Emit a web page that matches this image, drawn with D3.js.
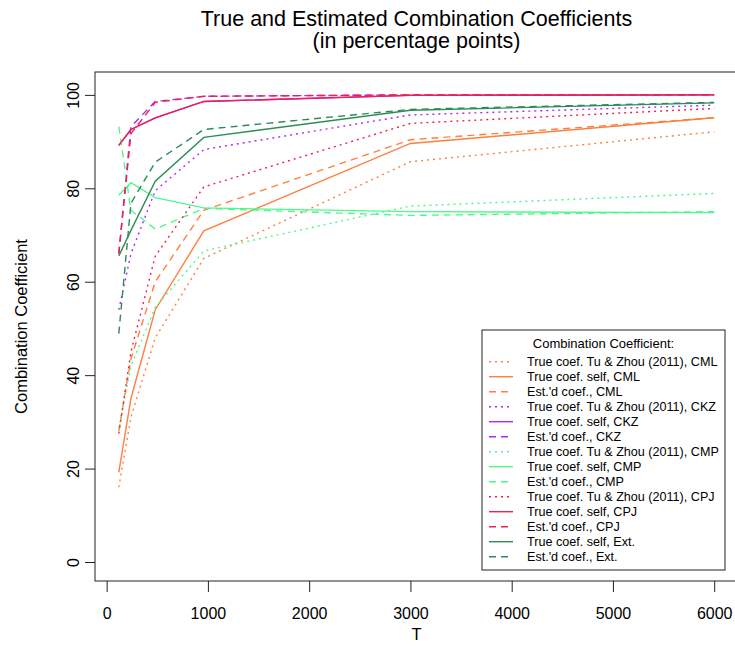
<!DOCTYPE html>
<html>
<head>
<meta charset="utf-8">
<script src="https://cdn.jsdelivr.net/npm/d3@7/dist/d3.min.js"></script>
<style>
  html, body { margin: 0; padding: 0; background: #fff; }
  svg { display: block; font-family: "Liberation Sans", Arial, Helvetica, sans-serif; }
</style>
</head>
<body>
<svg id="chart" width="735" height="665"></svg>
<script>
// Sample sizes
const T = [120, 240, 480, 960, 3000, 6000];

// Combination coefficients (percentage points) per method
const cmlTuZhou = [16.0, 31.0, 48.0, 65.0, 85.7, 92.1];
const cmlSelf   = [19.2, 35.0, 54.0, 70.9, 89.6, 95.1];
const cmlEst    = [28.0, 43.5, 60.0, 75.3, 90.4, 95.1];
const ckzTuZhou = [54.0, 66.0, 79.5, 88.3, 95.7, 97.8];
const ckzSelf   = [89.2, 92.6, 95.1, 98.6, 99.9, 100.0];
const ckzEst    = [66.0, 93.2, 98.6, 99.7, 100.0, 100.0];
const cmpTuZhou = [28.6, 42.0, 54.5, 66.6, 76.2, 78.9];
const cmpSelf   = [78.5, 81.2, 78.0, 75.8, 75.0, 74.8];
const cmpEst    = [93.2, 75.3, 71.3, 75.7, 74.2, 75.0];
const cpjTuZhou = [27.5, 45.0, 65.5, 80.3, 93.9, 97.1];
const cpjSelf   = [89.2, 92.6, 95.1, 98.6, 99.9, 100.0];
const cpjEst    = [66.0, 91.7, 98.4, 99.7, 100.0, 100.0];
const extSelf   = [65.5, 71.0, 81.5, 90.9, 96.7, 98.3];
const extEst    = [48.9, 76.8, 85.6, 92.6, 96.9, 98.4];

// Tick labels
const xTicks = [0, 1000, 2000, 3000, 4000, 5000, 6000];
const yTicks = [0, 20, 40, 60, 80, 100];

// Series in drawing / legend order
const seriesNames = [
  "True coef. Tu & Zhou (2011), CML", "True coef. self, CML", "Est.'d coef., CML",
  "True coef. Tu & Zhou (2011), CKZ", "True coef. self, CKZ", "Est.'d coef., CKZ",
  "True coef. Tu & Zhou (2011), CMP", "True coef. self, CMP", "Est.'d coef., CMP",
  "True coef. Tu & Zhou (2011), CPJ", "True coef. self, CPJ", "Est.'d coef., CPJ",
  "True coef. self, Ext.", "Est.'d coef., Ext."
];
const seriesValues = [
  cmlTuZhou, cmlSelf, cmlEst,
  ckzTuZhou, ckzSelf, ckzEst,
  cmpTuZhou, cmpSelf, cmpEst,
  cpjTuZhou, cpjSelf, cpjEst,
  extSelf, extEst
];
const seriesColors = [
  "#FF7F3F", "#FF7F3F", "#FF7F3F",
  "#A62BF5", "#A62BF5", "#A62BF5",
  "#4FF88E", "#4FF88E", "#4FF88E",
  "#F0204C", "#F0204C", "#F0204C",
  "#2E8B57", "#2E8B57"
];
const seriesTypes = [
  "dotted", "solid", "dashed",
  "dotted", "solid", "dashed",
  "dotted", "solid", "dashed",
  "dotted", "solid", "dashed",
  "solid", "dashed"
];
const dashFor = { solid: null, dashed: "7,5", dotted: "2,4" };

const svg = d3.select("#chart");
const box = { left: 95, right: 738, top: 72, bottom: 581 };

const x = d3.scaleLinear().domain([-115, 6235]).range([box.left, box.right]);
const y = d3.scaleLinear().domain([-4.07, 104.9]).range([box.bottom, box.top]);

// Title
const cx = (box.left + box.right) / 2;
const title = svg.append("text")
  .attr("text-anchor", "middle")
  .attr("font-size", 21.5)
  .attr("fill", "#000");
title.append("tspan").attr("x", cx).attr("y", 26)
  .text("True and Estimated Combination Coefficients");
title.append("tspan").attr("x", cx).attr("y", 48)
  .text("(in percentage points)");

// Lines
const clipId = "plot-clip";
svg.append("clipPath").attr("id", clipId).append("rect")
  .attr("x", box.left).attr("y", box.top)
  .attr("width", box.right - box.left).attr("height", box.bottom - box.top);

const line = d3.line().x(d => x(d[0])).y(d => y(d[1]));
const plot = svg.append("g").attr("clip-path", `url(#${clipId})`);
seriesValues.forEach((vals, i) => {
  plot.append("path")
    .datum(T.map((t, j) => [t, vals[j]]))
    .attr("d", line)
    .attr("fill", "none")
    .attr("stroke", seriesColors[i])
    .attr("stroke-width", 1.4)
    .attr("stroke-dasharray", dashFor[seriesTypes[i]]);
});

// Plot frame
svg.append("rect")
  .attr("x", box.left).attr("y", box.top)
  .attr("width", box.right - box.left).attr("height", box.bottom - box.top)
  .attr("fill", "none").attr("stroke", "#222").attr("stroke-width", 1);

// X axis
const xAxis = svg.append("g")
  .attr("transform", `translate(0,${box.bottom})`)
  .call(d3.axisBottom(x).tickValues(xTicks).tickFormat(d3.format("d")).tickSize(11));
xAxis.select(".domain").remove();
xAxis.selectAll(".tick line").attr("stroke", "#222");
xAxis.selectAll(".tick text")
  .attr("y", 37.5).attr("dy", 0)
  .attr("font-size", 16).attr("fill", "#000")
  .attr("font-family", "Liberation Sans, Arial, sans-serif");

// Y axis
const yAxis = svg.append("g")
  .attr("transform", `translate(${box.left},0)`)
  .call(d3.axisLeft(y).tickValues(yTicks).tickFormat(d3.format("d")).tickSize(10));
yAxis.select(".domain").remove();
yAxis.selectAll(".tick line").attr("stroke", "#222");
yAxis.selectAll(".tick text")
  .attr("x", 0).attr("y", 0).attr("dy", "0.35em")
  .attr("transform", "translate(-22,0) rotate(-90)")
  .attr("text-anchor", "middle")
  .attr("font-size", 16).attr("fill", "#000")
  .attr("font-family", "Liberation Sans, Arial, sans-serif");

// Axis titles
svg.append("text")
  .attr("x", cx).attr("y", 640)
  .attr("text-anchor", "middle").attr("font-size", 16.5)
  .text("T");
svg.append("text")
  .attr("transform", `translate(21,${(box.top + box.bottom) / 2}) rotate(-90)`)
  .attr("dy", "0.35em")
  .attr("text-anchor", "middle").attr("font-size", 16.5)
  .text("Combination Coefficient");

// Legend
const lg = svg.append("g").attr("transform", "translate(482,330)");
lg.append("rect")
  .attr("x", 0).attr("y", 0).attr("width", 243).attr("height", 240)
  .attr("fill", "#fff").attr("stroke", "#222").attr("stroke-width", 1);
lg.append("text")
  .attr("x", 121.5).attr("y", 13.5).attr("dy", "0.35em")
  .attr("text-anchor", "middle").attr("font-size", 13)
  .text("Combination Coefficient:");
seriesNames.forEach((name, i) => {
  const cy = 31.7 + i * 15;
  lg.append("line")
    .attr("x1", 7).attr("x2", 31).attr("y1", cy).attr("y2", cy)
    .attr("stroke", seriesColors[i]).attr("stroke-width", 1.4)
    .attr("stroke-dasharray", dashFor[seriesTypes[i]]);
  lg.append("text")
    .attr("x", 45).attr("y", cy).attr("dy", "0.35em")
    .attr("font-size", 12.6)
    .text(name);
});
</script>
</body>
</html>
